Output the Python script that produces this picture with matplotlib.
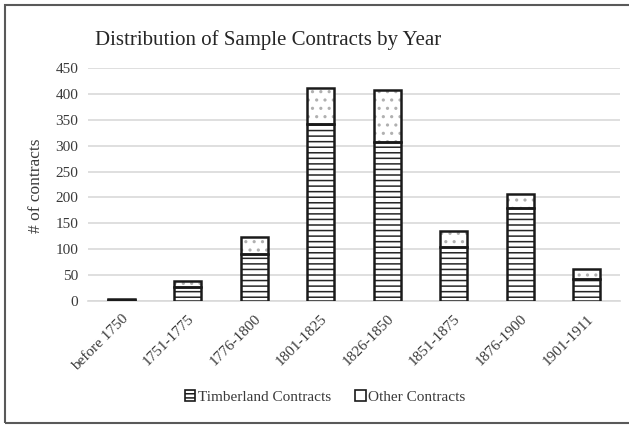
import matplotlib
matplotlib.use("Agg")
import matplotlib.pyplot as plt
from matplotlib.patches import Rectangle, Patch
import numpy as np

categories = ["before 1750", "1751-1775", "1776-1800", "1801-1825",
              "1826-1850", "1851-1875", "1876-1900", "1901-1911"]
timberland = [3, 27, 91, 341, 306, 105, 179, 43]
other = [1, 13, 33, 69, 101, 31, 27, 19]
yticks = [0, 50, 100, 150, 200, 250, 300, 350, 400, 450]

plt.rcParams['font.family'] = ['Liberation Serif', 'DejaVu Serif']
plt.rcParams['hatch.linewidth'] = 1.1

fig = plt.figure(figsize=(6.29, 4.26), dpi=100)
ax = fig.add_axes([0.1399, 0.2923, 0.8458, 0.5492])

x = np.arange(len(categories))
w = 0.41
txt = '#3a3a3a'

# Timberland (horizontal lines)
ax.bar(x, timberland, w, color='white', edgecolor='#262626', hatch='---', linewidth=0, zorder=3)
ax.bar(x, timberland, w, fill=False, edgecolor='#1a1a1a', linewidth=1.8, zorder=4)
# Other (sparse dots)
ax.bar(x, other, w, bottom=timberland, color='white', edgecolor='#b0b0b0', hatch='..', linewidth=0, zorder=3)
ax.bar(x, other, w, bottom=timberland, fill=False, edgecolor='#1a1a1a', linewidth=1.8, zorder=4)

ax.set_xlim(-0.5, len(categories) - 0.5)
ax.set_ylim(0, 450)
ax.set_yticks(yticks)
ax.set_yticklabels([str(v) for v in yticks], fontsize=11, color=txt)
ax.set_xticks(x)
ax.set_xticklabels(categories, rotation=45, ha='right', rotation_mode='anchor',
                   fontsize=11, color=txt)
ax.tick_params(axis='both', length=0, pad=7)
ax.tick_params(axis='x', pad=8)
ax.grid(axis='y', color='#d9d9d9', linewidth=1.2, zorder=0)
ax.set_axisbelow(True)
for s in ['top', 'right', 'left']:
    ax.spines[s].set_visible(False)
ax.spines['bottom'].set_color('#d9d9d9')
ax.spines['bottom'].set_linewidth(1.2)

fig.text(0.058, 0.565, '# of contracts', rotation=90, ha='center', va='center',
         fontsize=12.5, color=txt)
fig.text(0.426, 0.906, 'Distribution of Sample Contracts by Year', ha='center',
         va='center', fontsize=15, color='#262626')

handles = [Patch(facecolor='white', edgecolor='#1a1a1a', hatch='----', linewidth=1.2),
           Patch(facecolor='white', edgecolor='#1a1a1a', linewidth=1.2)]
fig.legend(handles, ['Timberland Contracts', 'Other Contracts'], loc='center',
           bbox_to_anchor=(0.517, 0.068), ncol=2, frameon=False, fontsize=11,
           handlelength=0.7, handleheight=0.7, handletextpad=0.15,
           columnspacing=1.6, labelcolor=txt)

fig.patches.append(Rectangle((4.5 / 629, 3.5 / 426), 1.2, 1 - 8 / 426,
                             transform=fig.transFigure, fill=False,
                             edgecolor='#595959', linewidth=1.5))

fig.savefig('out.png', dpi=100)
